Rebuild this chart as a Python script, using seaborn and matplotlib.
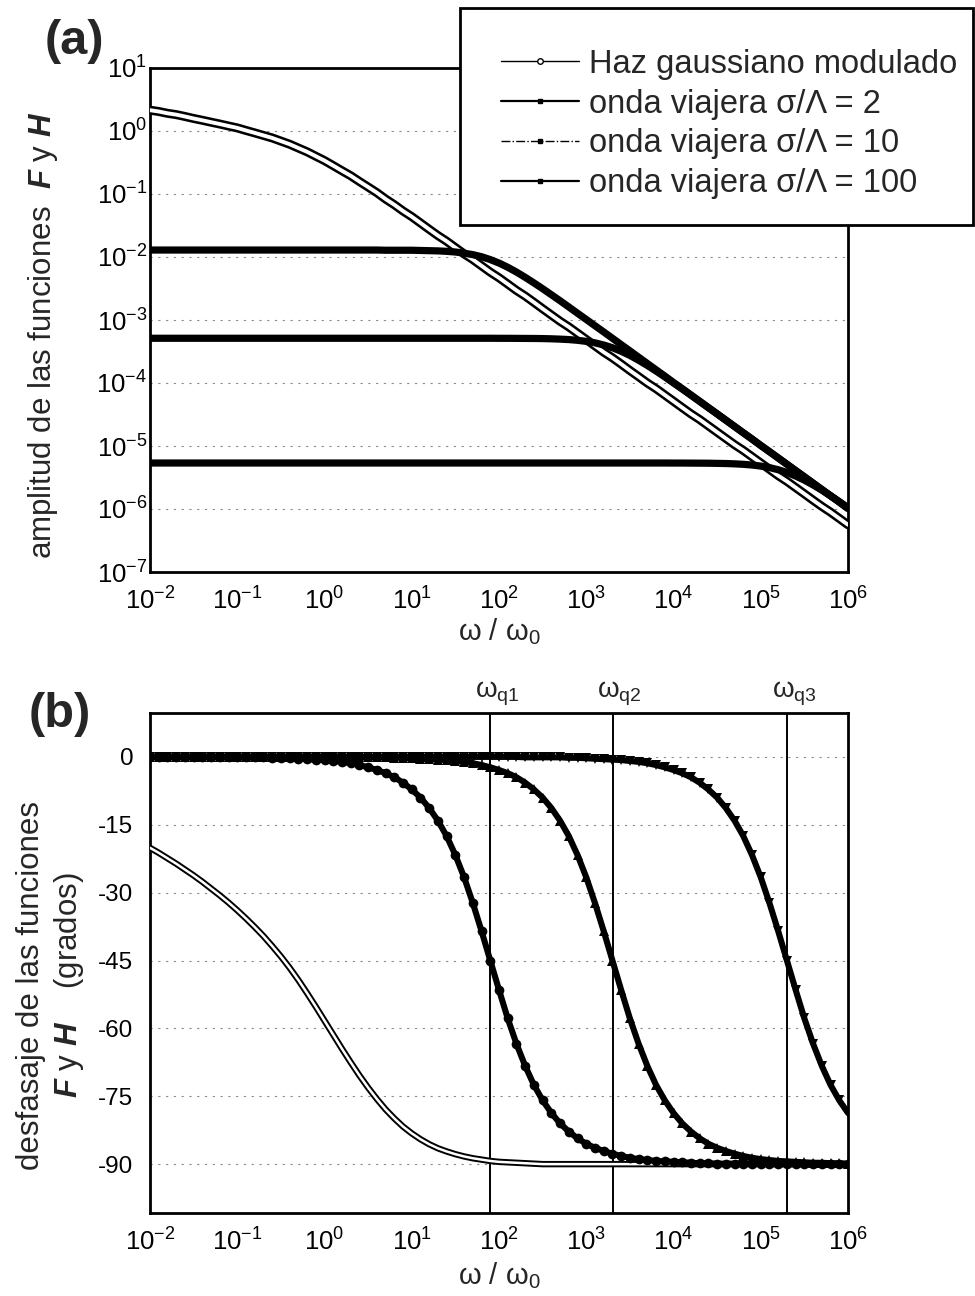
import numpy as np
import pandas as pd
import matplotlib
matplotlib.use("Agg")
import matplotlib.pyplot as plt
import seaborn as sns
from matplotlib.lines import Line2D
from matplotlib.patches import Rectangle
from matplotlib.ticker import LogLocator, MultipleLocator, NullFormatter

# ---------------- data ----------------
omega = np.logspace(-2, 6, 81)          # sampling grid, omega / omega_0

# (a) amplitude
haz_amp = [2.14, 2.04, 1.91, 1.82, 1.70, 1.58, 1.48, 1.38, 1.29, 1.20,
           1.12, 1.02, 0.933, 0.851, 0.776, 0.692, 0.617, 0.537, 0.468, 0.398,
           0.339, 0.282, 0.234, 0.195, 0.158, 0.129, 0.105, 0.0832, 0.0676, 0.0537,
           0.0437, 0.0347, 0.0275, 0.0219, 0.0178, 0.0141, 0.0112, 0.00912, 0.00724, 0.00575,
           0.00468, 0.00372, 0.00295, 0.00240, 0.00191, 0.00151, 0.00120, 9.55e-4, 7.76e-4, 6.17e-4,
           4.90e-4, 3.89e-4, 3.09e-4, 2.51e-4, 2.00e-4, 1.58e-4, 1.26e-4, 1.00e-4, 8.13e-5, 6.46e-5,
           5.13e-5, 4.07e-5, 3.24e-5, 2.63e-5, 2.09e-5, 1.66e-5, 1.32e-5, 1.05e-5, 8.51e-6, 6.76e-6,
           5.37e-6, 4.27e-6, 3.39e-6, 2.75e-6, 2.19e-6, 1.74e-6, 1.38e-6, 1.10e-6, 8.91e-7, 7.08e-7,
           5.62e-7]
amp_s2 = [1.29e-2, 1.29e-2, 1.29e-2, 1.29e-2, 1.29e-2, 1.29e-2, 1.29e-2, 1.29e-2, 1.29e-2, 1.29e-2,
          1.29e-2, 1.29e-2, 1.29e-2, 1.29e-2, 1.29e-2, 1.29e-2, 1.29e-2, 1.29e-2, 1.29e-2, 1.29e-2,
          1.29e-2, 1.29e-2, 1.29e-2, 1.29e-2, 1.29e-2, 1.29e-2, 1.29e-2, 1.28e-2, 1.28e-2, 1.28e-2,
          1.28e-2, 1.27e-2, 1.26e-2, 1.25e-2, 1.23e-2, 1.20e-2, 1.15e-2, 1.09e-2, 1.01e-2, 9.10e-3,
          8.02e-3, 6.87e-3, 5.77e-3, 4.76e-3, 3.88e-3, 3.14e-3, 2.52e-3, 2.02e-3, 1.61e-3, 1.28e-3,
          1.02e-3, 8.11e-4, 6.46e-4, 5.13e-4, 4.07e-4, 3.24e-4, 2.57e-4, 2.04e-4, 1.62e-4, 1.29e-4,
          1.02e-4, 8.13e-5, 6.46e-5, 5.13e-5, 4.07e-5, 3.24e-5, 2.57e-5, 2.04e-5, 1.62e-5, 1.29e-5,
          1.02e-5, 8.13e-6, 6.46e-6, 5.13e-6, 4.07e-6, 3.24e-6, 2.57e-6, 2.04e-6, 1.62e-6, 1.29e-6,
          1.02e-6]
amp_s10 = [5.13e-4, 5.13e-4, 5.13e-4, 5.13e-4, 5.13e-4, 5.13e-4, 5.13e-4, 5.13e-4, 5.13e-4, 5.13e-4,
           5.13e-4, 5.13e-4, 5.13e-4, 5.13e-4, 5.13e-4, 5.13e-4, 5.13e-4, 5.13e-4, 5.13e-4, 5.13e-4,
           5.13e-4, 5.13e-4, 5.13e-4, 5.13e-4, 5.13e-4, 5.13e-4, 5.13e-4, 5.13e-4, 5.13e-4, 5.13e-4,
           5.13e-4, 5.13e-4, 5.13e-4, 5.13e-4, 5.13e-4, 5.13e-4, 5.13e-4, 5.13e-4, 5.13e-4, 5.13e-4,
           5.12e-4, 5.12e-4, 5.11e-4, 5.10e-4, 5.09e-4, 5.07e-4, 5.03e-4, 4.97e-4, 4.89e-4, 4.76e-4,
           4.58e-4, 4.34e-4, 4.01e-4, 3.63e-4, 3.19e-4, 2.74e-4, 2.30e-4, 1.90e-4, 1.55e-4, 1.25e-4,
           1.00e-4, 8.03e-5, 6.41e-5, 5.10e-5, 4.06e-5, 3.23e-5, 2.57e-5, 2.04e-5, 1.62e-5, 1.29e-5,
           1.02e-5, 8.13e-6, 6.46e-6, 5.13e-6, 4.07e-6, 3.24e-6, 2.57e-6, 2.04e-6, 1.62e-6, 1.29e-6,
           1.02e-6]
amp_s100 = [5.37e-6, 5.37e-6, 5.37e-6, 5.37e-6, 5.37e-6, 5.37e-6, 5.37e-6, 5.37e-6, 5.37e-6, 5.37e-6,
            5.37e-6, 5.37e-6, 5.37e-6, 5.37e-6, 5.37e-6, 5.37e-6, 5.37e-6, 5.37e-6, 5.37e-6, 5.37e-6,
            5.37e-6, 5.37e-6, 5.37e-6, 5.37e-6, 5.37e-6, 5.37e-6, 5.37e-6, 5.37e-6, 5.37e-6, 5.37e-6,
            5.37e-6, 5.37e-6, 5.37e-6, 5.37e-6, 5.37e-6, 5.37e-6, 5.37e-6, 5.37e-6, 5.37e-6, 5.37e-6,
            5.37e-6, 5.37e-6, 5.37e-6, 5.37e-6, 5.37e-6, 5.37e-6, 5.37e-6, 5.37e-6, 5.37e-6, 5.37e-6,
            5.37e-6, 5.37e-6, 5.37e-6, 5.37e-6, 5.37e-6, 5.37e-6, 5.37e-6, 5.37e-6, 5.37e-6, 5.37e-6,
            5.36e-6, 5.36e-6, 5.35e-6, 5.34e-6, 5.33e-6, 5.30e-6, 5.27e-6, 5.21e-6, 5.12e-6, 4.99e-6,
            4.80e-6, 4.54e-6, 4.20e-6, 3.80e-6, 3.34e-6, 2.87e-6, 2.41e-6, 1.99e-6, 1.62e-6, 1.31e-6,
            1.05e-6]

# (b) phase (degrees)
ph_haz = [-20.1, -21.2, -22.4, -23.6, -24.9, -26.2, -27.6, -29.1, -30.6, -32.2,
          -33.9, -35.7, -37.6, -39.6, -41.8, -44.1, -46.6, -49.3, -52.2, -55.2,
          -58.3, -61.4, -64.5, -67.5, -70.4, -73.1, -75.6, -77.9, -79.9, -81.7,
          -83.2, -84.5, -85.6, -86.5, -87.2, -87.8, -88.3, -88.7, -89.0, -89.3,
          -89.5, -89.6, -89.7, -89.8, -89.9, -90.0, -90.0, -90.0, -90.0, -90.0,
          -90.0, -90.0, -90.0, -90.0, -90.0, -90.0, -90.0, -90.0, -90.0, -90.0,
          -90.0, -90.0, -90.0, -90.0, -90.0, -90.0, -90.0, -90.0, -90.0, -90.0,
          -90.0, -90.0, -90.0, -90.0, -90.0, -90.0, -90.0, -90.0, -90.0, -90.0,
          -90.0]
ph_s2 = [0.0, 0.0, 0.0, 0.0, 0.0, 0.0, 0.0, 0.0, 0.0, -0.1,
         -0.1, -0.1, -0.1, -0.1, -0.2, -0.2, -0.3, -0.4, -0.5, -0.6,
         -0.7, -0.9, -1.1, -1.4, -1.8, -2.3, -2.9, -3.6, -4.5, -5.7,
         -7.2, -9.0, -11.3, -14.1, -17.5, -21.7, -26.6, -32.3, -38.5, -45.0,
         -51.5, -57.8, -63.4, -68.3, -72.5, -75.9, -78.7, -81.0, -82.8, -84.3,
         -85.5, -86.4, -87.1, -87.7, -88.2, -88.6, -88.9, -89.1, -89.3, -89.4,
         -89.5, -89.6, -89.7, -89.8, -89.8, -89.9, -89.9, -89.9, -89.9, -89.9,
         -89.9, -90.0, -90.0, -90.0, -90.0, -90.0, -90.0, -90.0, -90.0, -90.0,
         -90.0]
ph_s10 = [0.0, 0.0, 0.0, 0.0, 0.0, 0.0, 0.0, 0.0, 0.0, 0.0,
          0.0, 0.0, 0.0, 0.0, 0.0, 0.0, 0.0, 0.0, 0.0, 0.0,
          0.0, 0.0, 0.0, -0.1, -0.1, -0.1, -0.1, -0.1, -0.2, -0.2,
          -0.3, -0.4, -0.5, -0.6, -0.7, -0.9, -1.1, -1.4, -1.8, -2.3,
          -2.9, -3.6, -4.5, -5.7, -7.2, -9.0, -11.3, -14.1, -17.5, -21.7,
          -26.6, -32.3, -38.5, -45.0, -51.5, -57.8, -63.4, -68.3, -72.5, -75.9,
          -78.7, -81.0, -82.8, -84.3, -85.5, -86.4, -87.1, -87.7, -88.2, -88.6,
          -88.9, -89.1, -89.3, -89.4, -89.5, -89.6, -89.7, -89.7, -89.8, -89.8,
          -89.9]
ph_s100 = [0.0, 0.0, 0.0, 0.0, 0.0, 0.0, 0.0, 0.0, 0.0, 0.0,
           0.0, 0.0, 0.0, 0.0, 0.0, 0.0, 0.0, 0.0, 0.0, 0.0,
           0.0, 0.0, 0.0, 0.0, 0.0, 0.0, 0.0, 0.0, 0.0, 0.0,
           0.0, 0.0, 0.0, 0.0, 0.0, 0.0, 0.0, 0.0, 0.0, 0.0,
           0.0, 0.0, 0.0, -0.1, -0.1, -0.1, -0.1, -0.1, -0.2, -0.2,
           -0.3, -0.4, -0.5, -0.6, -0.7, -0.9, -1.1, -1.4, -1.8, -2.3,
           -2.9, -3.6, -4.5, -5.7, -7.2, -9.0, -11.3, -14.1, -17.5, -21.7,
           -26.6, -32.3, -38.5, -45.0, -51.5, -57.8, -63.4, -68.3, -72.5, -75.9,
           -78.7]

omega_q = [79, 2000, 2.0e5]
omega_q_labels = ["q1", "q2", "q3"]

legend_labels = ["Haz gaussiano modulado",
                 "onda viajera σ/Λ = 2",
                 "onda viajera σ/Λ = 10",
                 "onda viajera σ/Λ = 100"]

# ---------------- style ----------------
sns.set_theme(style="white")
plt.rcParams["font.family"] = ["Liberation Sans", "DejaVu Sans"]
plt.rcParams["mathtext.fontset"] = "custom"
plt.rcParams["mathtext.rm"] = "Liberation Sans"
plt.rcParams["mathtext.it"] = "Liberation Sans:italic"
plt.rcParams["mathtext.bf"] = "Liberation Sans:italic:bold"
plt.rcParams["axes.unicode_minus"] = False
plt.rcParams["axes.linewidth"] = 2.0
plt.rcParams["axes.edgecolor"] = "black"

W, H = 975, 1296
fig = plt.figure(figsize=(W / 100, H / 100), dpi=100)
fig.patch.set_facecolor("white")


def box(x0, y0, x1, y1):
    return [x0 / W, 1 - y1 / H, (x1 - x0) / W, (y1 - y0) / H]


axa = fig.add_axes(box(150, 68, 848, 572))
axb = fig.add_axes(box(150, 713, 848, 1213))

for ax in (axa, axb):
    ax.set_xscale("log")
axa.set_yscale("log")

# ---------------- panel (a) ----------------
sns.lineplot(x=omega, y=haz_amp, ax=axa, color="black", linewidth=6.5,
             legend=False, errorbar=None, zorder=3)
sns.lineplot(x=omega, y=haz_amp, ax=axa, color="white", linewidth=2.8,
             legend=False, errorbar=None, zorder=3.1)
for vals in (amp_s2, amp_s10, amp_s100):
    sns.lineplot(x=omega, y=vals, ax=axa, color="black", linewidth=5.2,
                 legend=False, errorbar=None, zorder=4)

axa.set_xlim(1e-2, 1e6)
axa.set_ylim(1e-7, 1e1)
axa.yaxis.set_major_locator(LogLocator(base=10, numticks=20))
axa.yaxis.set_minor_locator(LogLocator(base=10, subs=np.arange(2, 10), numticks=200))
axa.yaxis.set_minor_formatter(NullFormatter())

# ---------------- panel (b) ----------------
for xq in omega_q:
    axb.axvline(xq, color="black", linewidth=1.4, zorder=2)

sns.lineplot(x=omega, y=ph_haz, ax=axb, color="black", linewidth=4.6,
             legend=False, errorbar=None, zorder=3)
sns.lineplot(x=omega, y=ph_haz, ax=axb, color="white", linewidth=1.8,
             legend=False, errorbar=None, zorder=3.1)
for vals, mk in ((ph_s2, "o"), (ph_s10, "^"), (ph_s100, "v")):
    sns.lineplot(x=omega, y=vals, ax=axb, color="black", linewidth=4.4,
                 marker=mk, markersize=7, markeredgewidth=0,
                 legend=False, errorbar=None, zorder=4)

axb.set_xlim(1e-2, 1e6)
axb.set_ylim(-100.8, 9.7)
axb.yaxis.set_major_locator(MultipleLocator(15))
axb.yaxis.set_minor_locator(MultipleLocator(5))

for xq, lab in zip(omega_q, omega_q_labels):
    axb.annotate("ω$_{\\mathrm{" + lab + "}}$", xy=(xq, 1.0),
                 xycoords=("data", "axes fraction"),
                 xytext=(7, 5), textcoords="offset pixels",
                 ha="center", va="bottom", fontsize=20)

# ---------------- common axis styling ----------------
for ax in (axa, axb):
    ax.xaxis.set_major_locator(LogLocator(base=10, numticks=20))
    ax.xaxis.set_minor_locator(LogLocator(base=10, subs=np.arange(2, 10), numticks=200))
    ax.xaxis.set_minor_formatter(NullFormatter())
    ax.set_xlabel("")
    ax.set_ylabel("")
    ax.tick_params(which="major", direction="inout", length=12, width=1.6,
                   labelsize=18.5, top=False, right=False, colors="black")
    ax.tick_params(which="minor", direction="in", length=4.5, width=1.2,
                   top=False, right=False)
    ax.tick_params(axis="x", which="major", pad=5)
    for s in ax.spines.values():
        s.set_visible(True)
        s.set_color("black")
        s.set_linewidth(2.0)
    ax.grid(False)
    ax.grid(axis="y", which="major", color="0.55", linestyle=(0, (2, 5)),
            linewidth=0.8)
    ax.set_facecolor("white")

axa.tick_params(axis="y", which="major", pad=-4)
axb.tick_params(axis="y", which="major", pad=6, labelsize=17.5)

# ---------------- texts ----------------
fig.text(45 / W, 1 - 54 / H, "(a)", fontsize=35, fontweight="bold",
         ha="left", va="baseline")
fig.text(29 / W, 1 - 727 / H, "(b)", fontsize=35, fontweight="bold",
         ha="left", va="baseline")

fig.text(43 / W, 1 - 335 / H,
         "amplitud de las funciones  $\\mathbf{F}$ y $\\mathbf{H}$",
         rotation=90, ha="center", va="center", fontsize=22.5)
fig.text(51 / W, 1 - 985 / H,
         "desfasaje de las funciones\n$\\mathbf{F}$ y $\\mathbf{H}$    (grados)",
         rotation=90, ha="center", va="center", fontsize=22.5,
         multialignment="center", linespacing=1.25)

fig.text(499 / W, 1 - 632 / H, "ω / ω$_0$", ha="center", va="center", fontsize=21)
fig.text(499 / W, 1 - 1276 / H, "ω / ω$_0$", ha="center", va="center", fontsize=21)

# ---------------- legend ----------------
legend_box = Rectangle((460 / W, 1 - 225 / H), 513 / W, 217 / H,
                       transform=fig.transFigure, facecolor="white",
                       edgecolor="black", linewidth=2.0, zorder=9)
fig.patches.append(legend_box)

handles = [
    Line2D([0], [0], color="black", linewidth=1.0, linestyle="-", marker="o",
           markersize=4, markerfacecolor="white", markeredgecolor="black",
           markeredgewidth=1.0),
    Line2D([0], [0], color="black", linewidth=1.6, linestyle="-", marker="s",
           markersize=3.5),
    Line2D([0], [0], color="black", linewidth=1.0, linestyle="-.", marker="s",
           markersize=3.5),
    Line2D([0], [0], color="black", linewidth=1.6, linestyle="-", marker="s",
           markersize=3.5),
]
leg = fig.legend(handles, legend_labels, loc="upper left",
                 bbox_to_anchor=(460 / W, 0, 513 / W, 1 - 8 / H),
                 mode="expand", borderaxespad=0, fontsize=23.5,
                 frameon=False, handlelength=2.4, handletextpad=0.3,
                 borderpad=1.25, labelspacing=0.27, numpoints=1)
leg.set_zorder(10)

fig.savefig("out.png", dpi=100, facecolor="white")
